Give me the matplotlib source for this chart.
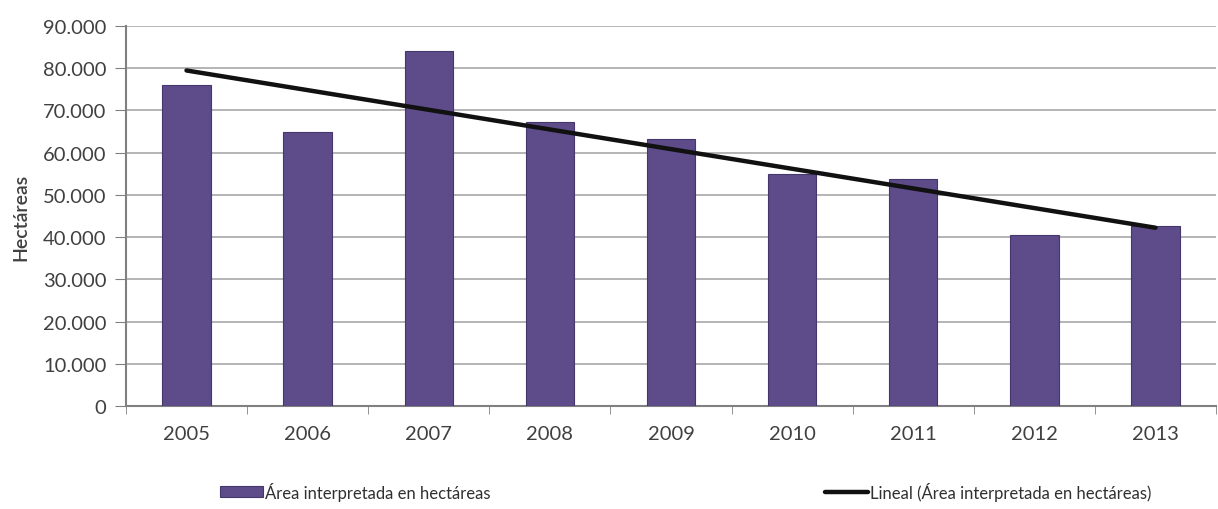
import matplotlib
matplotlib.use("Agg")
import matplotlib.pyplot as plt
import numpy as np
from matplotlib.ticker import FuncFormatter

years = ["2005", "2006", "2007", "2008", "2009", "2010", "2011", "2012", "2013"]
area = [76000, 65000, 84000, 67300, 63300, 55000, 53800, 40500, 42700]
y_ticks = [0, 10000, 20000, 30000, 40000, 50000, 60000, 70000, 80000, 90000]

plt.rcParams['font.family'] = ['Lato', 'DejaVu Sans']

fig = plt.figure(figsize=(12.18, 5.10), dpi=100)
ax = fig.add_axes([0.1034, 0.202, 0.895, 0.745])

x = np.arange(len(years))
bars = ax.bar(x, area, width=0.4, color='#5e4b89', edgecolor='#45366c', linewidth=0.8, zorder=3)
coef = np.polyfit(x, area, 1)
trend = np.polyval(coef, x)
line, = ax.plot([x[0], x[-1]], [trend[0], trend[-1]], color='#111111', linewidth=3.2,
                solid_capstyle='round', zorder=4)

ax.set_xlim(-0.5, len(years) - 0.5)
ax.set_ylim(0, 90000)
ax.set_yticks(y_ticks)
ax.yaxis.set_major_formatter(FuncFormatter(lambda v, p: f"{int(v):,}".replace(",", ".")))
ax.set_xticks(x)
ax.set_xticklabels(years)
ax.set_xticks(np.arange(-0.5, len(years), 1.0), minor=True)
ax.tick_params(axis='x', which='major', length=0, pad=14, labelsize=14.5, labelcolor='#404040')
ax.tick_params(axis='x', which='minor', length=6, color='#808080', direction='out')
ax.tick_params(axis='y', length=8, color='#808080', labelsize=14.5, labelcolor='#404040', pad=6)
ax.grid(axis='y', color='#a8a8a8', linewidth=1.2, zorder=0)
for s in ['top', 'right']:
    ax.spines[s].set_visible(False)
for s in ['left', 'bottom']:
    ax.spines[s].set_color('#808080')
    ax.spines[s].set_linewidth(1.5)
ax.set_ylabel('Hectáreas', fontsize=14, color='#404040', labelpad=10, fontweight='semibold')

leg1 = fig.legend([bars], ['Área interpretada en hectáreas'], loc='center left',
                  bbox_to_anchor=(0.175, 0.035), frameon=False, fontsize=12,
                  handlelength=2.6, handleheight=0.6, handletextpad=0.1, borderaxespad=0)
leg2 = fig.legend([line], ['Lineal (Área interpretada en hectáreas)'], loc='center left',
                  bbox_to_anchor=(0.672, 0.035), frameon=False, fontsize=12,
                  handlelength=2.6, handletextpad=0.1, borderaxespad=0)
for lg in (leg1, leg2):
    for t in lg.get_texts():
        t.set_color('#303030')

fig.savefig('out.png', dpi=100)
